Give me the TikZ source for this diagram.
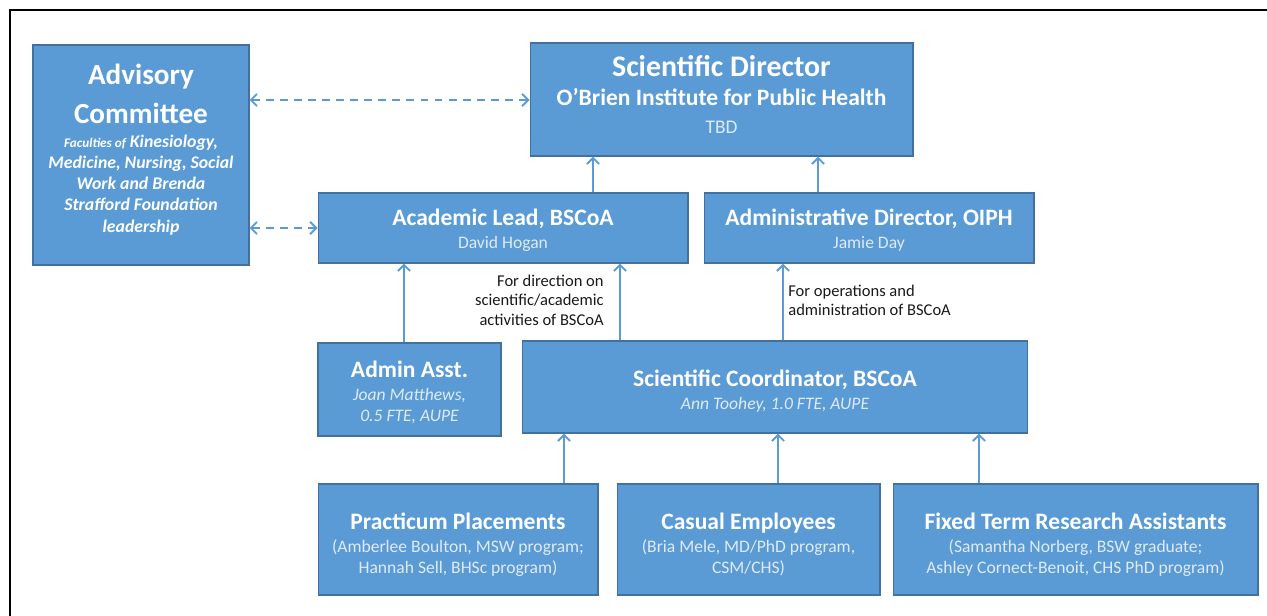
\documentclass[tikz,border=0pt]{standalone}
\usepackage{fontspec}
\setmainfont{Carlito}
\usepackage{xcolor}
\usepackage{tikz}
\usetikzlibrary{positioning,arrows.meta}

\definecolor{boxblue}{HTML}{5B9BD5}
\definecolor{boxedge}{HTML}{41719C}
\definecolor{namecol}{HTML}{DEEBF7}

\newcommand{\unittitle}[1]{{\bfseries\fontsize{13.4}{16}\selectfont #1}}
\newcommand{\unitname}[1]{{\color{namecol}\fontsize{10}{12}\selectfont #1}}
\newcommand{\bigtitle}[1]{{\bfseries\fontsize{16.6}{20}\selectfont #1}}
\newcommand{\facline}[1]{{\bfseries\itshape\fontsize{10.1}{12}\selectfont #1}}
% struts to nudge a text block down (top) or up (bottom) in its box
\newcommand{\topstrut}[1]{\rule{0pt}{#1}}
\newcommand{\botstrut}[1]{\rule[-#1]{0pt}{0pt}}

\begin{document}
\begin{tikzpicture}[x=0.02cm, y=-0.02cm,
    unit/.style={draw=boxedge, fill=boxblue, text=white, align=center,
      inner sep=2pt, line width=0.6pt},
    reportsto/.style={-{Straight Barb[length=3.5pt,width=7pt]}, draw=boxblue, line width=1.1pt},
    advises/.style={{Straight Barb[length=3.5pt,width=7pt]}-{Straight Barb[length=3.5pt,width=7pt]},
      draw=boxblue, line width=1.1pt, dash pattern=on 4.5pt off 3.5pt},
    note/.style={text=black!90, font=\fontsize{9.4}{11}\selectfont, inner sep=0pt}]
\useasboundingbox (0,0) rectangle (1267,615);
\draw[line width=1.3pt] (10,10) rectangle (1300,650);

% top row
\node[unit, minimum width=4.32cm, minimum height=4.4cm] (adv) at (141,155)
  {\bigtitle{Advisory}\\[7.5pt] \bigtitle{Committee}\\[1.5pt]
   \facline{{\fontsize{7.5}{12}\selectfont Faculties of} Kinesiology,}\\
   \facline{Medicine, Nursing, Social}\\
   \facline{Work and Brenda}\\
   \facline{Strafford Foundation}\\
   \facline{leadership\botstrut{8.2pt}}};
\node[unit, minimum width=7.66cm, minimum height=2.26cm] (dir) at (721.5,99.5)
  {{\bfseries\fontsize{17}{18}\selectfont Scientific Director}\\[4.5pt]
   \unittitle{O’Brien Institute for Public Health}\\[4pt]
   \unitname{\fontsize{11}{12}\selectfont TBD\botstrut{5.7pt}}};

% leads
\node[unit, minimum width=7.4cm, minimum height=1.4cm] (lead) at (503,228)
  {\unittitle{\topstrut{11.7pt}Academic Lead, BSCoA}\\[1pt] \unitname{David Hogan}};
\node[unit, minimum width=6.6cm, minimum height=1.4cm] (admdir) at (869,228)
  {\unittitle{\topstrut{11.7pt}Administrative Director, OIPH}\\[1pt] \unitname{Jamie Day}};

% staff
\node[unit, minimum width=3.66cm, minimum height=1.86cm] (asst) at (409.5,389.5)
  {\unittitle{\topstrut{12.8pt}Admin Asst.}\\[1pt] \unitname{\itshape Joan Matthews,}\\ \unitname{\itshape 0.5 FTE, AUPE}};
\node[unit, minimum width=10.12cm, minimum height=1.84cm] (coord) at (775,387)
  {\unittitle{\topstrut{14.2pt}Scientific Coordinator, BSCoA}\\[1.5pt] \unitname{\itshape Ann Toohey, 1.0 FTE, AUPE}};

% students and assistants
\node[unit, minimum width=5.6cm, minimum height=2.22cm] (prac) at (458,539.5)
  {\unittitle{\topstrut{15.1pt}Practicum Placements}\\[1pt] \unitname{(Amberlee Boulton, MSW program;}\\ \unitname{Hannah Sell, BHSc program)}};
\node[unit, minimum width=5.26cm, minimum height=2.22cm] (casual) at (748.5,539.5)
  {\unittitle{\topstrut{15.1pt}Casual Employees}\\[1pt] \unitname{(Bria Mele, MD/PhD program,}\\ \unitname{CSM/CHS)}};
\node[unit, minimum width=7.3cm, minimum height=2.22cm] (fixed) at (1075.5,539.5)
  {\unittitle{\topstrut{15.1pt}Fixed Term Research Assistants}\\[1pt] \unitname{(Samantha Norberg, BSW graduate;}\\ \unitname{Ashley Cornect-Benoit, CHS PhD program)}};

% notes on the reporting lines
\node[note, align=right, anchor=east] (dirnote) at (604,300)
  {For direction on\\ scientific/academic\\ activities of BSCoA};
\node[note, align=left, anchor=west] (opsnote) at (788,300)
  {For operations and\\ administration of BSCoA};

% dashed advisory links
\draw[advises] (adv.east |- 0,100) -- (dir.west |- 0,100);
\draw[advises] (adv.east |- lead.west) -- (lead.west);

% reporting lines
\draw[reportsto] (lead.north -| 593,0) -- (dir.south -| 593,0);
\draw[reportsto] (admdir.north -| 818,0) -- (dir.south -| 818,0);
\draw[reportsto] (asst.north -| 404,0) -- (lead.south -| 404,0);
\draw[reportsto] (coord.north -| 620,0) -- (lead.south -| 620,0);
\draw[reportsto] (coord.north -| 783,0) -- (admdir.south -| 783,0);
\draw[reportsto] (prac.north -| 564,0) -- (coord.south -| 564,0);
\draw[reportsto] (casual.north -| 778,0) -- (coord.south -| 778,0);
\draw[reportsto] (fixed.north -| 979,0) -- (coord.south -| 979,0);
\end{tikzpicture}
\end{document}
